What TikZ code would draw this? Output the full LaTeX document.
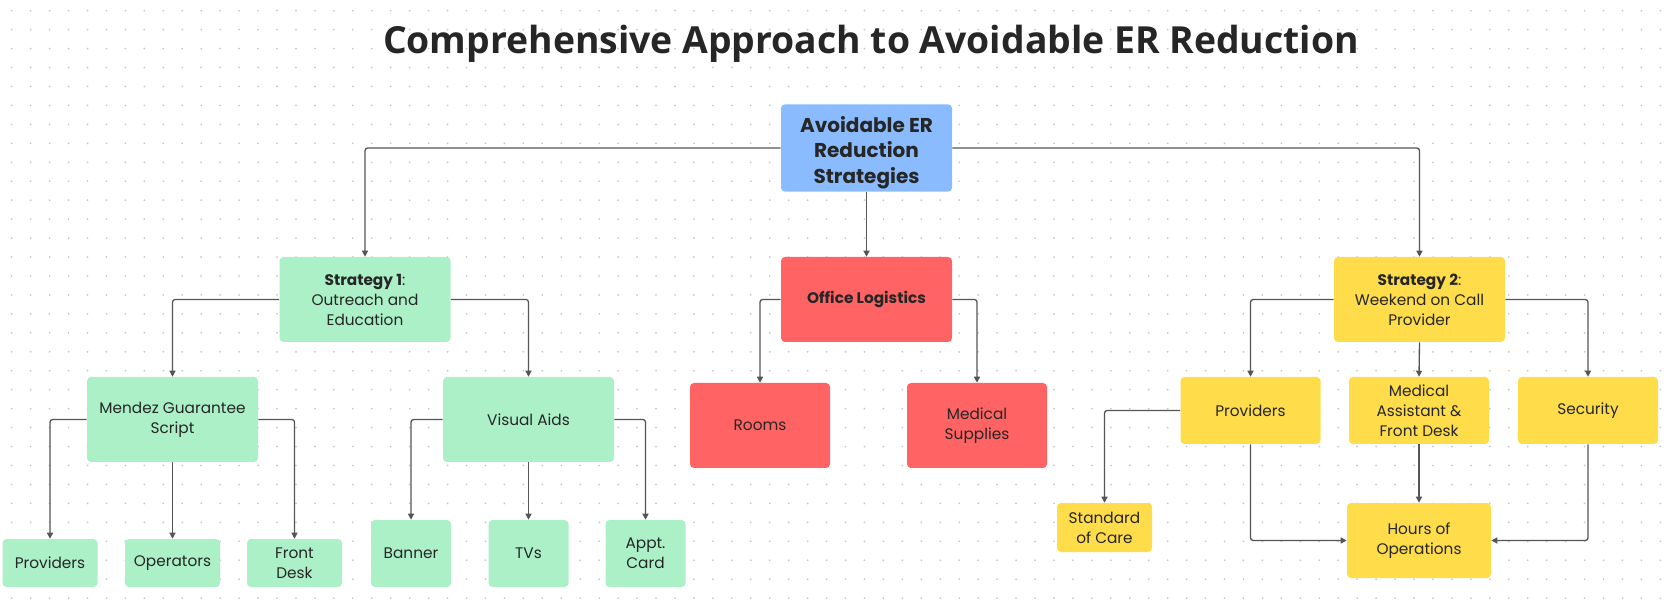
\documentclass[tikz,border=0pt]{standalone}
\usepackage{xcolor}
\usepackage{fontspec}
\setmainfont{Poppins}
\newfontfamily\titlefont{Open Sans}
\usepackage{tikz}
\usetikzlibrary{arrows.meta}
\definecolor{boxblue}{RGB}{138,187,255}
\definecolor{boxgreen}{RGB}{172,240,200}
\definecolor{boxred}{RGB}{255,99,99}
\definecolor{boxyellow}{RGB}{255,220,74}
\definecolor{linegray}{RGB}{85,85,85}
\definecolor{dotgray}{RGB}{200,200,200}
\definecolor{textdark}{RGB}{38,38,38}

\begin{document}
\begin{tikzpicture}[x=0.75pt,y=0.75pt,yscale=-1,xscale=1,
    card/.style={rounded corners=3pt, inner sep=2pt, align=center, text=textdark, font=\fontsize{11.5}{15}\selectfont},
    bigcard/.style={card, minimum width=128.25pt, minimum height=63.75pt},
    midcard/.style={card, minimum width=105pt, minimum height=63.75pt},
    rowcard/.style={card, minimum width=105pt, minimum height=50.25pt},
    smallcard/.style={card, minimum width=71.25pt, minimum height=36pt},
    narrowcard/.style={card, minimum width=60pt, minimum height=50.25pt},
    link/.style={draw=linegray, line width=1pt, rounded corners=2pt, -{Triangle[length=4.5pt,width=4.5pt]}}
]

    \fill[white] (0,0) rectangle (1664,599);
    \foreach \i in {0,...,87} {
        \foreach \j in {0,...,31} {
            \fill[dotgray] (11.7+18.95*\i,10.7+18.95*\j) circle (1);
        }
    }

    \node[anchor=base, text=textdark, font=\titlefont\bfseries\fontsize{28}{34}\selectfont] (title) at (871,54) {Comprehensive Approach to Avoidable ER Reduction};

    \node[bigcard, fill=boxblue, minimum height=64.5pt, font=\bfseries\fontsize{15}{19.2}\selectfont] (root) at (866.5,148) {\rule{0pt}{19pt}Avoidable ER\\Reduction\\Strategies};

    \node[bigcard, fill=boxgreen] (strat1) at (365,299.5) {\textbf{Strategy 1}:\\Outreach and\\Education};
    \node[bigcard, fill=boxred, font=\bfseries\fontsize{11.5}{15}\selectfont] (office) at (866.5,299.5) {Office Logistics};
    \node[bigcard, fill=boxyellow] (strat2) at (1419.5,299.5) {\textbf{Strategy 2}:\\Weekend on Call\\Provider};

    \node[bigcard, fill=boxgreen] (mendez) at (172.5,419.5) {Mendez Guarantee\\Script};
    \node[bigcard, fill=boxgreen] (visual) at (528.5,419.5) {Visual Aids};
    \node[midcard, fill=boxred] (rooms) at (760,425.5) {Rooms};
    \node[midcard, fill=boxred] (supplies) at (977,425.5) {Medical\\Supplies};
    \node[rowcard, fill=boxyellow] (prov2) at (1250.5,410.5) {Providers};
    \node[rowcard, fill=boxyellow] (assist) at (1419,410.5) {Medical\\Assistant \&\\Front Desk};
    \node[rowcard, fill=boxyellow] (security) at (1588,410.5) {Security};

    \node[smallcard, fill=boxgreen] (prov1) at (50,563) {Providers};
    \node[smallcard, fill=boxgreen] (operators) at (172.5,563) {Operators};
    \node[smallcard, fill=boxgreen] (frontdesk) at (294.5,563) {Front\\Desk};
    \node[narrowcard, fill=boxgreen] (banner) at (411,553.5) {Banner};
    \node[narrowcard, fill=boxgreen] (tvs) at (528.5,553.5) {TVs};
    \node[narrowcard, fill=boxgreen] (appt) at (645.5,553.5) {Appt.\\Card};
    \node[smallcard, fill=boxyellow, minimum height=36.75pt] (care) at (1104.5,527.5) {Standard\\of Care};
    \node[card, fill=boxyellow, minimum width=108pt, minimum height=56.25pt] (hours) at (1419,540.5) {Hours of\\Operations};

    \draw[link] (root.west) -| (strat1.north);
    \draw[link] (root.south) -- (office.north);
    \draw[link] (root.east) -| (strat2.north);

    \draw[link] (strat1.west) -| (mendez.north);
    \draw[link] (strat1.east) -| (visual.north);
    \draw[link] (office.west) -| (rooms.north);
    \draw[link] (office.east) -| (supplies.north);
    \draw[link] (strat2.west) -| (prov2.north);
    \draw[link] (strat2.south) -- (assist.north);
    \draw[link] (strat2.east) -| (security.north);

    \draw[link] (mendez.west) -| (prov1.north);
    \draw[link] (mendez.south) -- (operators.north);
    \draw[link] (mendez.east) -| (frontdesk.north);
    \draw[link] (visual.west) -| (banner.north);
    \draw[link] (visual.south) -- (tvs.north);
    \draw[link] (visual.east) -| (appt.north);

    \draw[link] (prov2.west) -| (care.north);
    \draw[link] (prov2.south) |- (hours.west);
    \draw[link] (assist.south) -- (hours.north);
    \draw[link] (security.south) |- (hours.east);

\end{tikzpicture}
\end{document}
